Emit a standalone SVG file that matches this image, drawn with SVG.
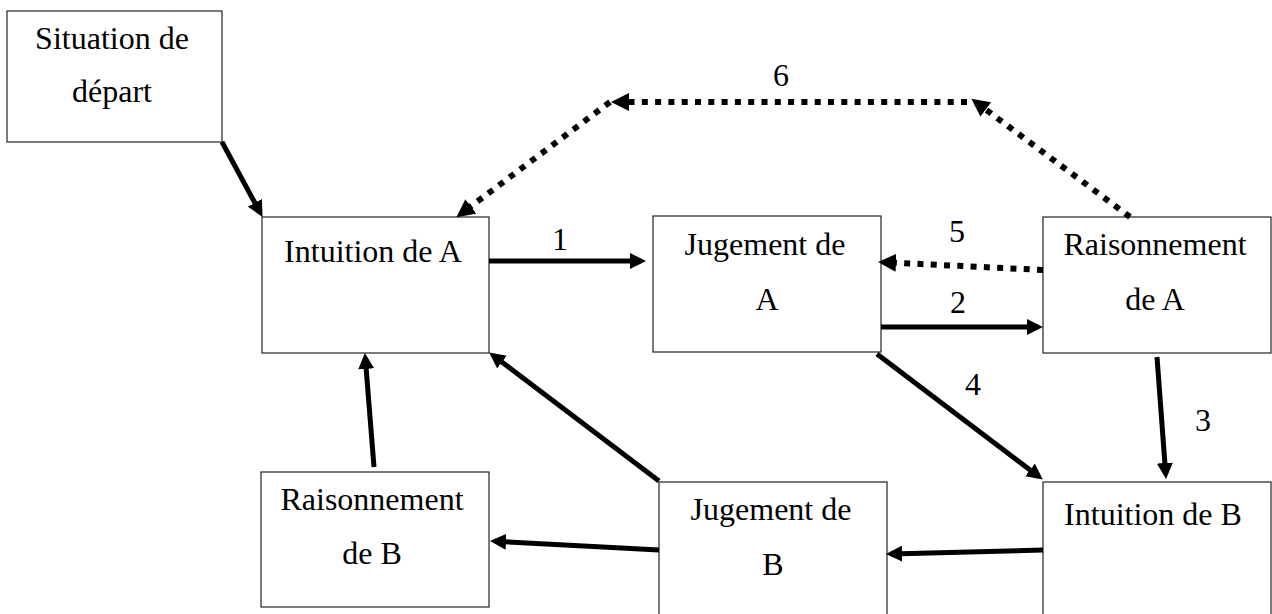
<svg xmlns="http://www.w3.org/2000/svg" width="1272" height="614" viewBox="0 0 1272 614">
<style>
.box{fill:#fff;stroke:#222;stroke-width:1.2}
.t{font-family:"Liberation Serif","Times New Roman",serif;font-size:32px;fill:#000;text-anchor:middle}
.e{stroke:#000;stroke-width:5;fill:none;marker-end:url(#ah)}
.d{stroke:#000;stroke-width:6;fill:none;stroke-dasharray:6 7.3;marker-end:url(#ahd)}
</style>
<defs>
<marker id="ah" markerUnits="userSpaceOnUse" markerWidth="16" markerHeight="16" refX="11" refY="8" orient="auto">
<path d="M0,0 L16,8 L0,16 z" fill="#000"/>
</marker>
<marker id="ahd" markerUnits="userSpaceOnUse" markerWidth="18" markerHeight="18" refX="12" refY="9" orient="auto">
<path d="M0,0 L18,9 L0,18 z" fill="#000"/>
</marker>
</defs>
<rect width="1272" height="614" fill="#fff"/>
<g id="n-situation"><rect class="box" x="7" y="11" width="215" height="131"/><text class="t" x="112" y="49">Situation de</text><text class="t" x="112" y="102">départ</text></g>
<g id="n-intuitionA"><rect class="box" x="262" y="217" width="227" height="136"/><text class="t" x="373" y="262">Intuition de A</text></g>
<g id="n-jugementA"><rect class="box" x="653" y="216" width="228" height="136"/><text class="t" x="765" y="255">Jugement de</text><text class="t" x="767" y="310">A</text></g>
<g id="n-raisonnementA"><rect class="box" x="1043" y="217" width="228" height="136"/><text class="t" x="1155" y="255">Raisonnement</text><text class="t" x="1155" y="310">de A</text></g>
<g id="n-intuitionB"><rect class="box" x="1043" y="482" width="228" height="140"/><text class="t" x="1153" y="525">Intuition de B</text></g>
<g id="n-jugementB"><rect class="box" x="659" y="482" width="228" height="140"/><text class="t" x="771" y="520">Jugement de</text><text class="t" x="773" y="575">B</text></g>
<g id="n-raisonnementB"><rect class="box" x="261" y="472" width="228" height="135"/><text class="t" x="372" y="510">Raisonnement</text><text class="t" x="372" y="564">de B</text></g>
<g id="connectors">
<line class="e" x1="222" y1="142" x2="260.1" y2="212.5"/>
<line class="e" x1="489" y1="261" x2="641" y2="261"/>
<line class="e" x1="881" y1="327" x2="1038" y2="327"/>
<line class="d" x1="1043" y1="270" x2="884" y2="262.2"/>
<line class="e" x1="877" y1="354" x2="1038.8" y2="476.6"/>
<line class="e" x1="1157" y1="357" x2="1165.7" y2="474"/>
<line class="e" x1="1043" y1="550" x2="891" y2="553.9"/>
<line class="e" x1="659" y1="550" x2="495" y2="541.2"/>
<line class="e" x1="659" y1="481" x2="493.2" y2="355.4"/>
<line class="e" x1="374" y1="467" x2="365.3" y2="358"/>
<line class="d" x1="1130" y1="217" x2="976.2" y2="102.4"/>
<line class="d" x1="967" y1="102" x2="617" y2="102"/>
<line class="d" x1="610" y1="102" x2="461.2" y2="213.6"/>
<text class="t" x="560" y="250">1</text>
<text class="t" x="958" y="313">2</text>
<text class="t" x="1203" y="431">3</text>
<text class="t" x="973" y="395">4</text>
<text class="t" x="957" y="242">5</text>
<text class="t" x="781" y="86">6</text>
</g>
</svg>
